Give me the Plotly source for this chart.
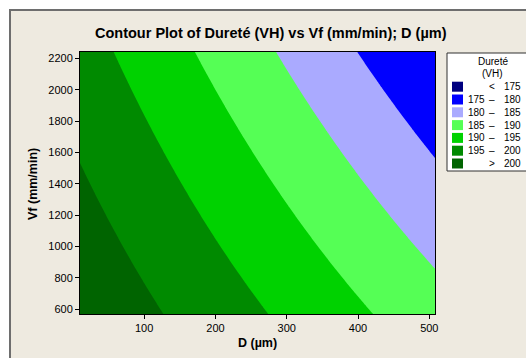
import numpy as np
import plotly.graph_objects as go

# Fitted response surface for Dureté (VH) in terms of D (µm) and Vf (mm/min)
model_intercept = 206.64
model_coef_d = -0.03063
model_coef_vf = -0.00407
model_coef_d_vf = -5.92e-6

# Explored region of the two factors
d_limits = [10, 508]
vf_limits = [570, 2242]

# Contour levels, band colours and legend rows
levels = [175, 180, 185, 190, 195, 200]
band_colors = ["#000080", "#0000FF", "#AAAAFF", "#55FF55", "#00D200", "#008A00", "#006400"]
band_rows = [("", "<", "175"), ("175", "–", "180"), ("180", "–", "185"),
             ("185", "–", "190"), ("190", "–", "195"), ("195", "–", "200"),
             ("", ">", "200")]

x_ticks = [100, 200, 300, 400, 500]
y_ticks = [600, 800, 1000, 1200, 1400, 1600, 1800, 2000, 2200]

# Evaluate the model on a fine mesh
d = np.linspace(d_limits[0], d_limits[1], 260)
vf = np.linspace(vf_limits[0], vf_limits[1], 260)
DD, VV = np.meshgrid(d, vf)
hardness = model_intercept + model_coef_d * DD + model_coef_vf * VV + model_coef_d_vf * DD * VV

# Stepped colour scale: one flat colour per band
n = len(band_colors)
colorscale = []
for i, c in enumerate(band_colors):
    colorscale.append([i / n, c])
    colorscale.append([(i + 1) / n, c])

W, H = 526, 358
L, R, T, B = 80, 91, 52, 44
PW, PH = W - L - R, H - T - B
BEIGE = "#EEEAE0"
FONT = "Liberation Sans"


def fx(px):
    return (px - L) / PW


def fy(py):
    return (H - B - py) / PH


fig = go.Figure()
fig.add_trace(go.Contour(
    x=d, y=vf, z=hardness,
    contours=dict(start=levels[0], end=levels[-1], size=levels[1] - levels[0],
                  coloring="fill", showlines=False),
    colorscale=colorscale, showscale=False, line_width=0, hoverinfo="skip",
))

shapes = [
    # Window frame
    dict(type="rect", xref="paper", yref="paper", layer="below",
         x0=fx(10), x1=fx(600), y0=fy(420), y1=fy(10),
         fillcolor=BEIGE, line=dict(color="#6E6E6E", width=2)),
    # Legend box
    dict(type="rect", xref="paper", yref="paper",
         x0=fx(447), x1=fx(600), y0=fy(171), y1=fy(53),
         fillcolor="white", line=dict(color="#303030", width=1)),
]

annotations = [
    dict(text="<b>Contour Plot of Dureté (VH) vs Vf (mm/min); D (µm)</b>",
         x=fx(271), y=fy(33), xref="paper", yref="paper", showarrow=False,
         xanchor="center", yanchor="middle", font=dict(family=FONT, size=14.5, color="black")),
    dict(text="<b>D (µm)</b>", x=fx(257), y=fy(343), xref="paper", yref="paper",
         showarrow=False, xanchor="center", yanchor="middle",
         font=dict(family=FONT, size=12.5, color="black")),
    dict(text="<b>Vf (mm/min)</b>", x=fx(33), y=fy(184), xref="paper", yref="paper",
         showarrow=False, textangle=-90, xanchor="center", yanchor="middle",
         font=dict(family=FONT, size=12.5, color="black")),
    dict(text="Dureté", x=fx(493), y=fy(61), xref="paper", yref="paper", showarrow=False,
         xanchor="center", yanchor="middle", font=dict(family=FONT, size=10, color="black")),
    dict(text="(VH)", x=fx(492), y=fy(73.5), xref="paper", yref="paper", showarrow=False,
         xanchor="center", yanchor="middle", font=dict(family=FONT, size=10, color="black")),
]

row0, step = 86.7, 12.8
for i, (c, (lo, sep, hi)) in enumerate(zip(band_colors, band_rows)):
    yc = row0 + i * step
    shapes.append(dict(type="rect", xref="paper", yref="paper",
                       x0=fx(452), x1=fx(463), y0=fy(yc + 5), y1=fy(yc - 5),
                       fillcolor=c, line=dict(width=0)))
    for txt, xc in ((lo, 476), (sep, 491.5), (hi, 512)):
        if txt:
            annotations.append(dict(text=txt, x=fx(xc), y=fy(yc), xref="paper", yref="paper",
                                    showarrow=False, xanchor="center", yanchor="middle",
                                    font=dict(family=FONT, size=10, color="black")))

axis_common = dict(ticks="outside", ticklen=4, tickwidth=1, tickcolor="black",
                   showline=True, linecolor="black", linewidth=1, mirror=True,
                   showgrid=False, zeroline=False,
                   tickfont=dict(family=FONT, size=11, color="black"))

fig.update_layout(
    width=W, height=H,
    margin=dict(l=L, r=R, t=T, b=B, pad=0),
    paper_bgcolor="white", plot_bgcolor=BEIGE,
    xaxis=dict(range=d_limits, tickvals=x_ticks, **axis_common),
    yaxis=dict(range=vf_limits, tickvals=y_ticks, **axis_common),
    shapes=shapes, annotations=annotations, showlegend=False,
)

fig.write_html("out.html")
